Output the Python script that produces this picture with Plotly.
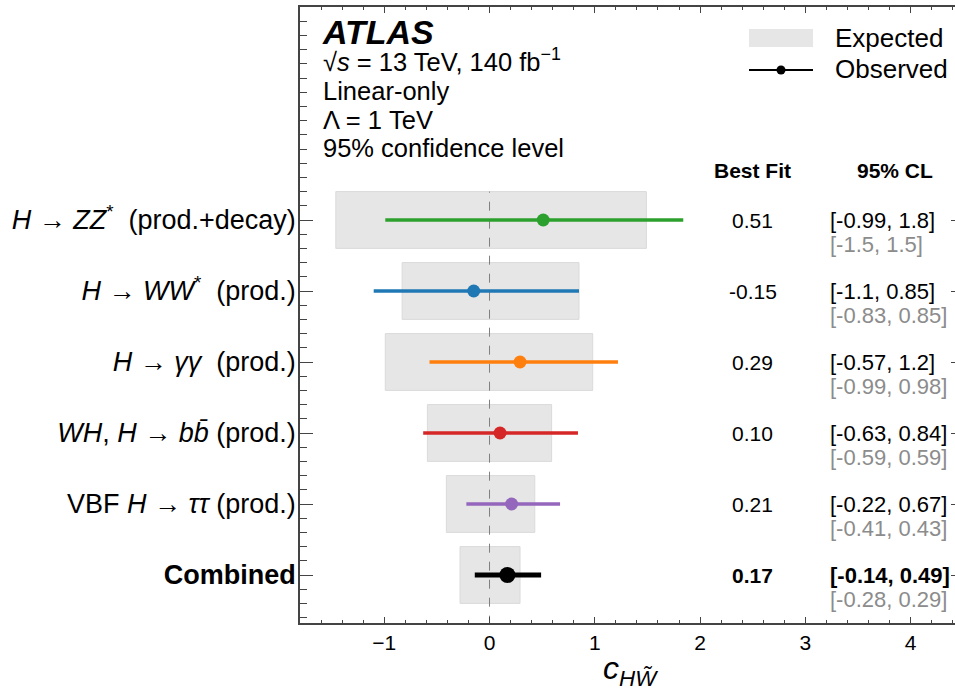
import plotly.graph_objects as go

# ---------------- data ----------------
categories = [
    "<i>H</i> → <i>ZZ</i><sup>*</sup>  (prod.+decay)",
    "<i>H</i> → <i>WW</i><sup>*</sup>  (prod.)",
    "<i>H</i> → <i>γγ</i>  (prod.)",
    "<i>WH</i>, <i>H</i> → <i>bb̄</i> (prod.)",
    "VBF <i>H</i> → <i>ττ</i> (prod.)",
    "<b>Combined</b>",
]
ypos = [5, 4, 3, 2, 1, 0]
colors = ["#2ca02c", "#1f77b4", "#ff7f0e", "#d62728", "#9467bd", "#000000"]

obs_best = [0.51, -0.15, 0.29, 0.10, 0.21, 0.17]
obs_lo = [-0.99, -1.10, -0.57, -0.63, -0.22, -0.14]
obs_hi = [1.84, 0.85, 1.22, 0.84, 0.67, 0.49]
exp_lo = [-1.46, -0.83, -0.99, -0.59, -0.41, -0.28]
exp_hi = [1.49, 0.85, 0.98, 0.59, 0.43, 0.29]

obs_cl_text = ["[-0.99, 1.8]", "[-1.1, 0.85]", "[-0.57, 1.2]", "[-0.63, 0.84]",
               "[-0.22, 0.67]", "[-0.14, 0.49]"]
exp_cl_text = ["[-1.5, 1.5]", "[-0.83, 0.85]", "[-0.99, 0.98]", "[-0.59, 0.59]",
               "[-0.41, 0.43]", "[-0.28, 0.29]"]

x_ticks = [-1, 0, 1, 2, 3, 4]
x_ticktext = ["−1", "0", "1", "2", "3", "4"]
ref_x = 0.0

FONT = "Liberation Sans, Arial, Helvetica, sans-serif"

W = 957  # right spine just outside the 955 px window, as in the reference
fig = go.Figure()

# expected boxes
fig.add_trace(go.Bar(
    orientation="h", y=ypos,
    x=[h - l for l, h in zip(exp_lo, exp_hi)], base=exp_lo,
    width=0.8, marker=dict(color="#e6e6e6", line=dict(color="#dadada", width=1)),
    showlegend=False, hoverinfo="skip",
))

# dashed reference line at zero
fig.add_trace(go.Scatter(
    x=[ref_x, ref_x], y=[-0.7, max(ypos) + 0.4], mode="lines",
    line=dict(color="#7f7f7f", width=1, dash="dash"),
    showlegend=False, hoverinfo="skip",
))

# observed intervals + best fits
for i, y in enumerate(ypos):
    comb = (i == len(ypos) - 1)
    fig.add_trace(go.Scatter(
        x=[obs_lo[i], obs_hi[i]], y=[y, y], mode="lines",
        line=dict(color=colors[i], width=5 if comb else 3.5),
        showlegend=False, hoverinfo="skip",
    ))
    fig.add_trace(go.Scatter(
        x=[obs_best[i]], y=[y], mode="markers",
        marker=dict(color=colors[i], size=16 if comb else 13),
        showlegend=False,
    ))

# invisible trace to carry the right-hand tick axis
fig.add_trace(go.Scatter(x=[obs_best[0]], y=[ypos[0]], yaxis="y2", mode="markers",
                         marker=dict(opacity=0), showlegend=False, hoverinfo="skip"))

annotations = []
# best fit / CL text columns
for i, y in enumerate(ypos):
    comb = (i == len(ypos) - 1)
    bf = f"{obs_best[i]:.2f}"
    cl = obs_cl_text[i]
    if comb:
        bf, cl = f"<b>{bf}</b>", f"<b>{cl}</b>"
    annotations.append(dict(x=2.5, y=y, xref="x", yref="y", text=bf, showarrow=False,
                            xanchor="center", yanchor="middle",
                            font=dict(size=21, color="black", family=FONT)))
    annotations.append(dict(x=3.21, y=y, xref="x", yref="y", text=cl, showarrow=False,
                            xanchor="left", yanchor="middle",
                            font=dict(size=22, color="black", family=FONT)))
    annotations.append(dict(x=3.21, y=y, xref="x", yref="y", text=exp_cl_text[i],
                            showarrow=False, xanchor="left", yanchor="middle", yshift=-24,
                            font=dict(size=22, color="#8c8c8c", family=FONT)))

annotations.append(dict(x=2.5, y=5.7, xref="x", yref="y", text="<b>Best Fit</b>",
                        showarrow=False, xanchor="center", yanchor="middle",
                        font=dict(size=21, color="black", family=FONT)))
annotations.append(dict(x=3.85, y=5.7, xref="x", yref="y", text="<b>95% CL</b>",
                        showarrow=False, xanchor="center", yanchor="middle",
                        font=dict(size=21, color="black", family=FONT)))

# ATLAS label block (paper coords; plot area y 7..623, x 300..W)
def py(px):
    return (623 - px) / 616.0

def pxf(px):
    return (px - 300) / float(W - 300)

annotations.append(dict(x=pxf(320), y=py(32), xref="paper", yref="paper",
                        text="<b><i>ATLAS</i></b>", showarrow=False,
                        xanchor="left", yanchor="middle",
                        font=dict(size=34, color="black", family=FONT)))
info = ["√<i>s</i> = 13 TeV, 140 fb<sup>−1</sup>", "Linear-only", "Λ = 1 TeV",
        "95% confidence level"]
info_y = [60, 91, 120, 148]
for t, yy in zip(info, info_y):
    annotations.append(dict(x=pxf(321), y=py(yy), xref="paper", yref="paper", text=t,
                            showarrow=False, xanchor="left", yanchor="middle",
                            font=dict(size=25.5, color="black", family=FONT)))

# legend (manual)
shapes = [
    dict(type="rect", xref="paper", yref="paper", x0=pxf(749), x1=pxf(813),
         y0=py(47), y1=py(29), fillcolor="#e6e6e6", line=dict(width=0), layer="above"),
    dict(type="line", xref="paper", yref="paper", x0=pxf(749), x1=pxf(813),
         y0=py(70), y1=py(70), line=dict(color="black", width=2)),
    dict(type="circle", xref="paper", yref="paper", xsizemode="pixel", ysizemode="pixel",
         xanchor=pxf(781), yanchor=py(70), x0=-4.5, x1=4.5, y0=-4.5, y1=4.5,
         fillcolor="black", line=dict(width=0)),
]
annotations.append(dict(x=pxf(833), y=py(38), xref="paper", yref="paper", text="Expected",
                        showarrow=False, xanchor="left", yanchor="middle",
                        font=dict(size=26, color="black", family=FONT)))
annotations.append(dict(x=pxf(833), y=py(69), xref="paper", yref="paper", text="Observed",
                        showarrow=False, xanchor="left", yanchor="middle",
                        font=dict(size=26, color="black", family=FONT)))

# x-axis title
annotations.append(dict(x=pxf(630), y=py(670), xref="paper", yref="paper",
                        text="<i>c</i><sub><i>HW̃</i></sub>", showarrow=False,
                        xanchor="center", yanchor="middle",
                        font=dict(size=32, color="black", family=FONT)))

fig.update_layout(
    width=W, height=691,
    margin=dict(l=300, r=0, t=7, b=68),
    plot_bgcolor="white", paper_bgcolor="white",
    showlegend=False,
    annotations=annotations, shapes=shapes,
    font=dict(family=FONT, color="black"),
    barmode="overlay",
    yaxis2=dict(overlaying="y", side="right", matches="y", tickmode="array",
                tickvals=ypos, ticks="inside", ticklen=6, tickwidth=1, tickcolor="#444",
                showticklabels=False, showline=True, linecolor="#444", linewidth=1.5,
                showgrid=False, zeroline=False),
)
fig.update_xaxes(
    range=[-1.8, 4.44], tickmode="array", tickvals=x_ticks, ticktext=x_ticktext,
    ticks="inside", ticklen=6, tickwidth=1, tickcolor="#444",
    minor=dict(tickmode="linear", tick0=0, dtick=0.2, ticks="inside", ticklen=3,
               tickcolor="#444", showgrid=False),
    showline=True, linecolor="#444", linewidth=1.5, mirror="ticks",
    showgrid=False, zeroline=False,
    tickfont=dict(size=21, family=FONT, color="black"),
)
fig.update_yaxes(
    selector=dict(side="left"),
)
fig.layout.yaxis.update(
    range=[-0.676, 8.0], tickmode="array", tickvals=ypos, ticktext=categories,
    ticks="inside", ticklen=13, tickwidth=1, tickcolor="#444",
    minor=dict(tickmode="linear", tick0=0, dtick=0.2, ticks="inside", ticklen=7,
               tickcolor="#444", showgrid=False),
    showline=True, linecolor="#444", linewidth=1.5, mirror=False,
    showgrid=False, zeroline=False,
    tickfont=dict(size=27, family=FONT, color="black"),
    ticklabelstandoff=-3,
)

fig.write_html("out.html",
               config={"displayModeBar": False},
               post_script="document.body.style.margin='0';"
                           "document.body.style.overflow='hidden';")
